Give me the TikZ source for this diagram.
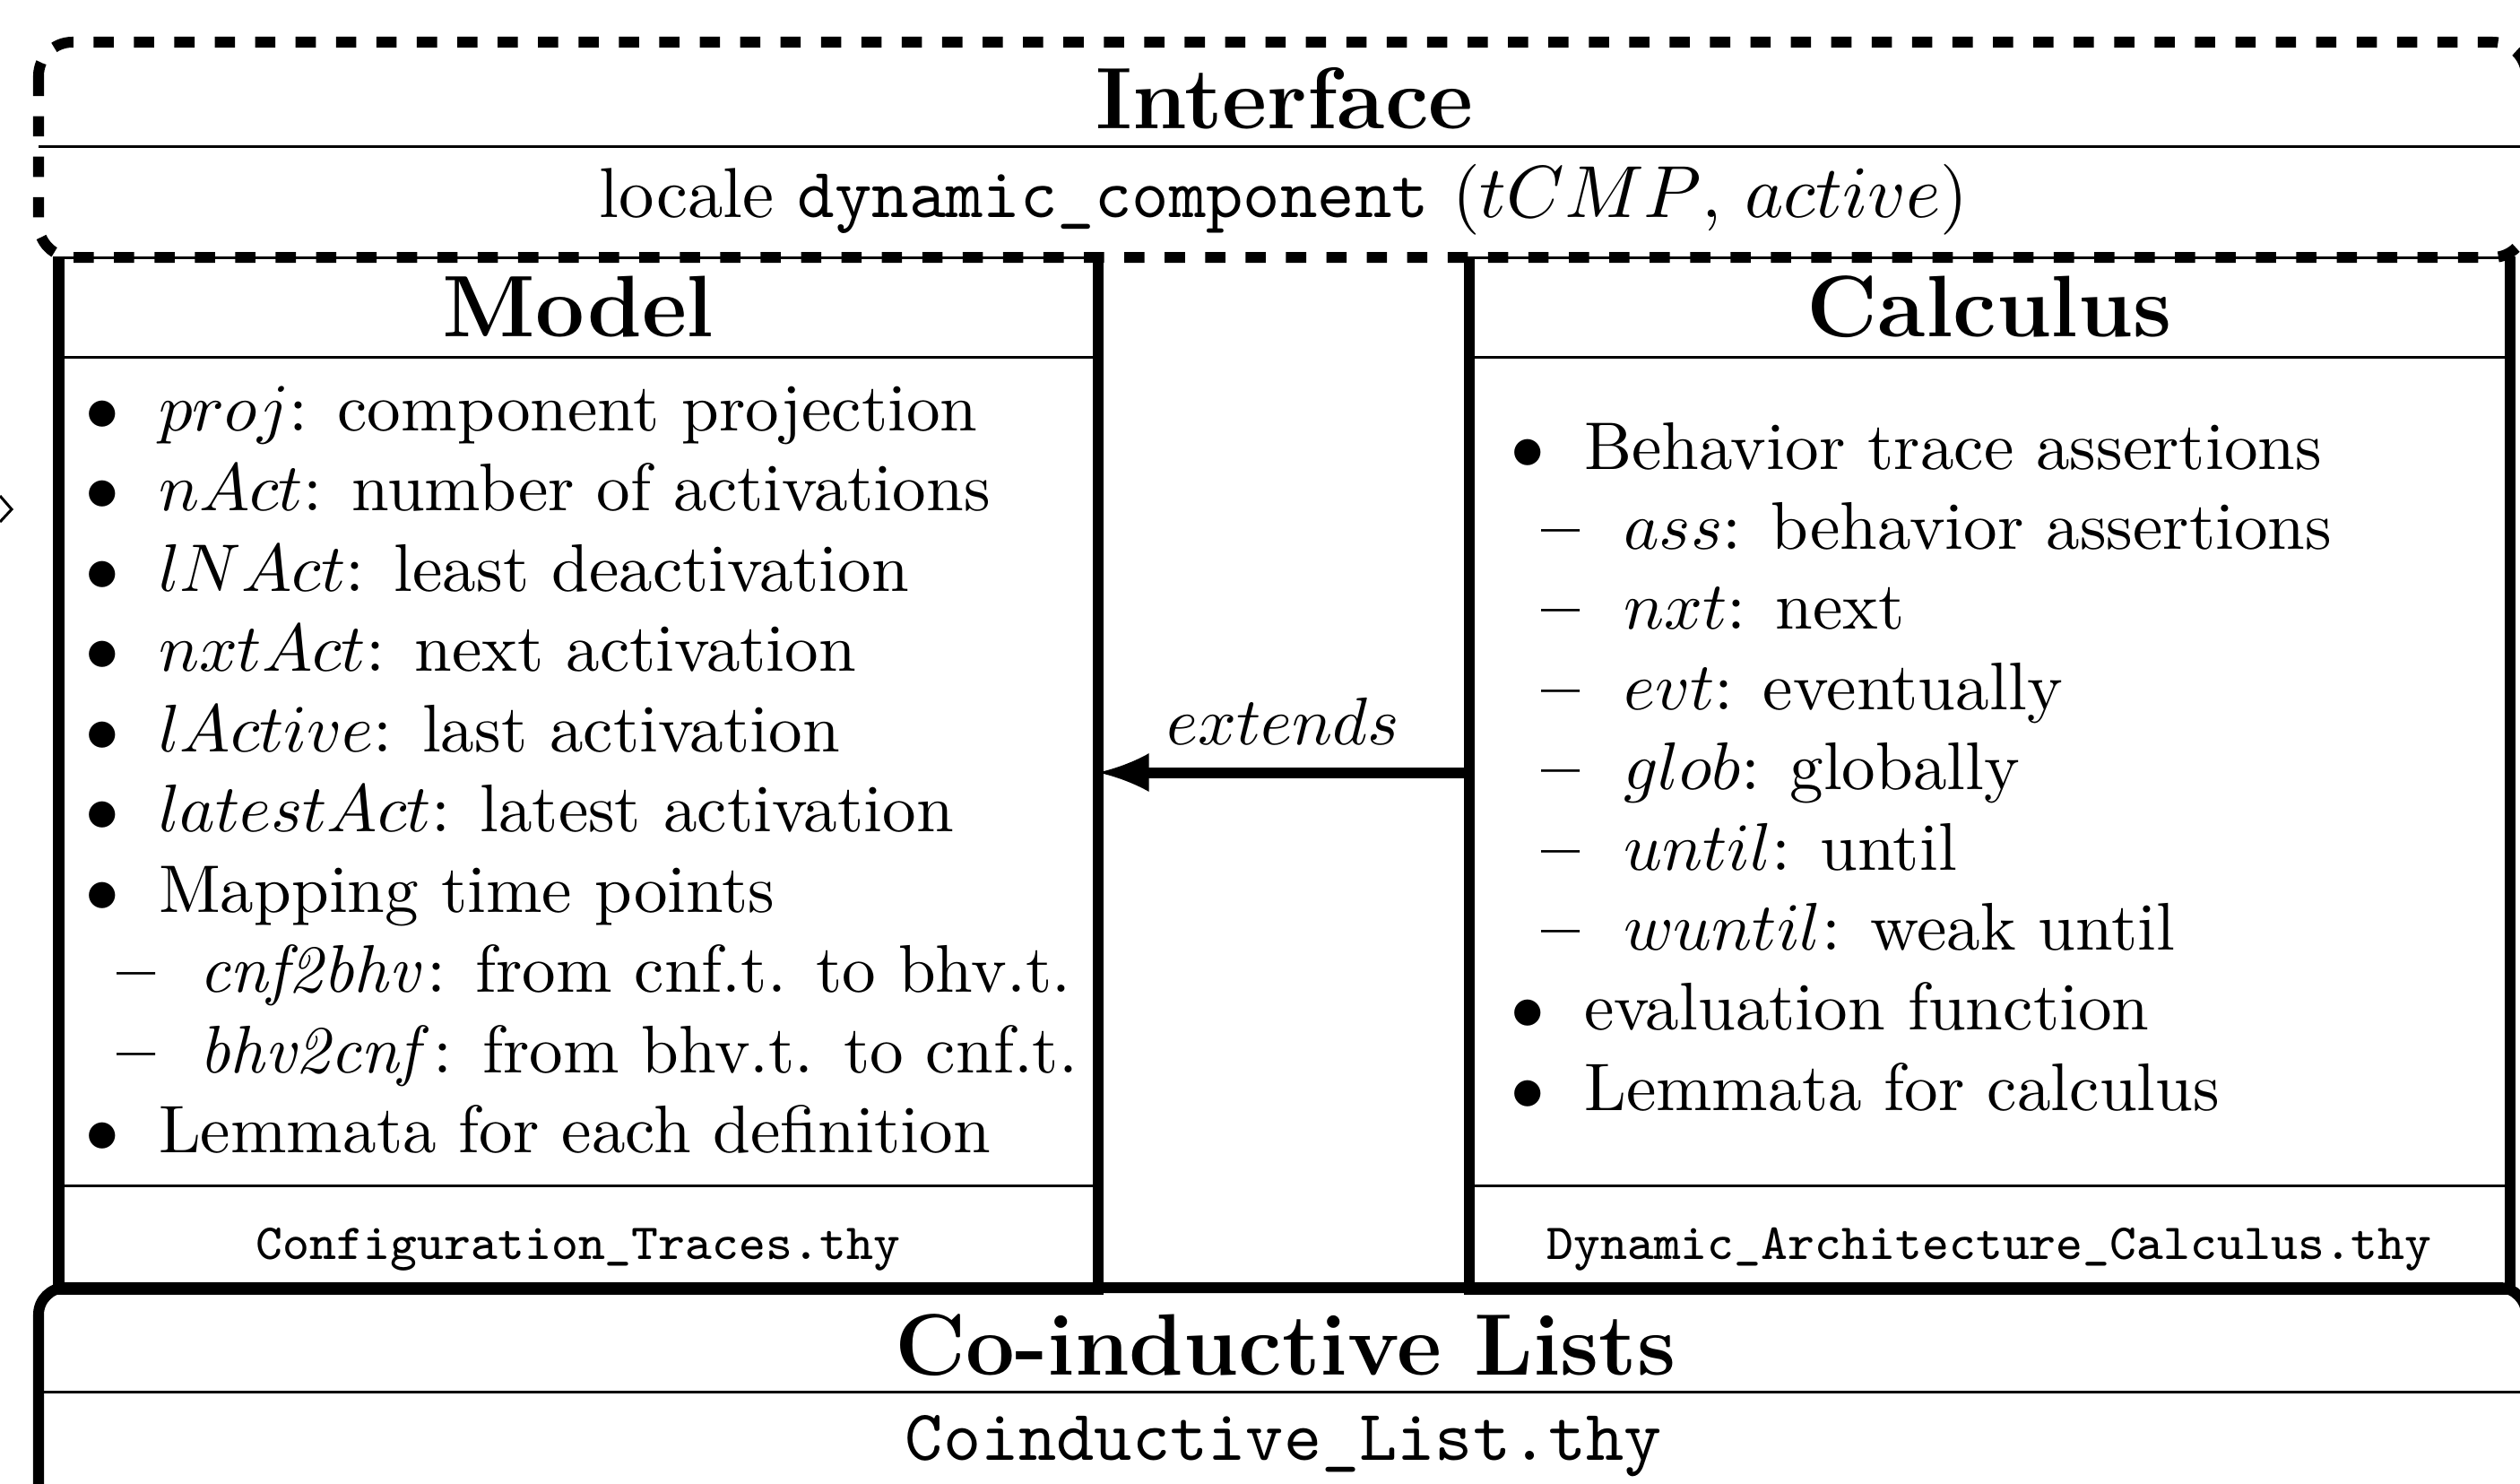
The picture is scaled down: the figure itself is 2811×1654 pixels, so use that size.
\documentclass[tikz,border=0pt]{standalone}
\usetikzlibrary{fit}

\newcommand{\bul}{\makebox[10.85pt][l]{$\bullet$}}
\newcommand{\dsh}{\makebox[12.2pt][l]{\bfseries\textendash}}

\tikzset{
	title/.style={anchor=base, inner sep=0pt, font=\fontsize{12.95}{15}\selectfont\bfseries},
	item/.style={anchor=base west, inner sep=0pt},
	thyfile/.style={anchor=base, inner sep=0pt, font=\fontsize{7.5}{9}\selectfont\ttfamily},
	unitbox/.style={draw, thin, inner sep=0pt},
}

\begin{document}
\begin{tikzpicture}[x=0.1331pt, y=-0.1331pt]
	\useasboundingbox (0,0) rectangle (2811,1654);
	\clip (0,0) rectangle (2811,1654);

	% model and calculus boxes
	\node[unitbox, fit={(67,287) (1223,1436)}] (model) {};
	\draw[ultra thick] (model.north west) -- (model.south west) -- (model.south east) -- (model.north east);
	\draw[thin] (67,398) -- (1223,398);
	\draw[thin] (67,1322) -- (1223,1322);

	\node[unitbox, fit={(1640,287) (2798,1436)}] (calc) {};
	\draw[ultra thick] (calc.north west) -- (calc.south west) -- (calc.south east) -- (calc.north east);
	\draw[thin] (1640,398) -- (2798,398);
	\draw[thin] (1640,1322) -- (2798,1322);

	% interface
	\draw[thin] (43,163) -- (2818,163);
	\draw[ultra thick, dashed, rounded corners=5pt] (43,47) rectangle (2818,287);
	\node[title] (iftitle) at (1433,143) {Interface};
	\node[anchor=base, inner sep=0pt, font=\fontsize{10.5}{13}\selectfont] (iflocale) at (1432,242)
		{locale \texttt{dynamic\_component} ($tCMP$, $active$)};

	% co-inductive lists
	\draw[ultra thick, rounded corners=4pt] (43,1700) -- (43,1436) -- (2818,1436) -- (2818,1700);
	\draw[thin] (43,1552) -- (2818,1552);
	\node[title] (cotitle) at (1434,1533) {Co-inductive Lists};
	\node[anchor=base, inner sep=0pt, font=\fontsize{10.7}{13}\selectfont\ttfamily] (cofile) at (1432,1628)
		{Coinductive\_List.thy};

	% model
	\node[title] (mtitle) at (645,375) {Model};
		\node[item] (m1) at (94,480) {\bul$proj$: component projection};
		\node[item] (m2) at (94,569.5) {\bul$nAct$: number of activations};
		\node[item] (m3) at (94,659) {\bul$lNAct$: least deactivation};
		\node[item] (m4) at (94,748.5) {\bul$nxtAct$: next activation};
		\node[item] (m5) at (94,838) {\bul$lActive$: last activation};
		\node[item] (m6) at (94,927.5) {\bul$latestAct$: latest activation};
		\node[item] (m7) at (94,1017) {\bul Mapping time points};
		\node[item] (m8) at (129,1106.5) {\dsh$\mathit{cnf2bhv}$: from cnf.t. to bhv.t.};
		\node[item] (m9) at (129,1196) {\dsh$\mathit{bhv2cnf}$: from bhv.t. to cnf.t.};
		\node[item] (m10) at (94,1285.5) {\bul Lemmata for each definition};
	\node[thyfile] (mfile) at (645,1404) {Configuration\_Traces.thy};

	% calculus
	\node[title] (ctitle) at (2219,375) {Calculus};
		\node[item] (c1) at (1684,523) {\bul Behavior trace assertions};
		\node[item] (c2) at (1718,612.4) {\dsh$ass$: behavior assertions};
		\node[item] (c3) at (1718,701.8) {\dsh$nxt$: next};
		\node[item] (c4) at (1718,791.2) {\dsh$evt$: eventually};
		\node[item] (c5) at (1718,880.6) {\dsh$glob$: globally};
		\node[item] (c6) at (1718,970) {\dsh$until$: until};
		\node[item] (c7) at (1718,1059.4) {\dsh$wuntil$: weak until};
		\node[item] (c8) at (1684,1148.8) {\bul evaluation function};
		\node[item] (c9) at (1684,1238.2) {\bul Lemmata for calculus};
	\node[thyfile] (cfile) at (2219,1404) {Dynamic\_Architecture\_Calculus.thy};

	\draw[ultra thick, -latex] (calc.west) -- node[above] (ext) {$extends$} (model.east);

	\draw[thin] (0,553) -- (13,568) -- (0,582);
\end{tikzpicture}
\end{document}
